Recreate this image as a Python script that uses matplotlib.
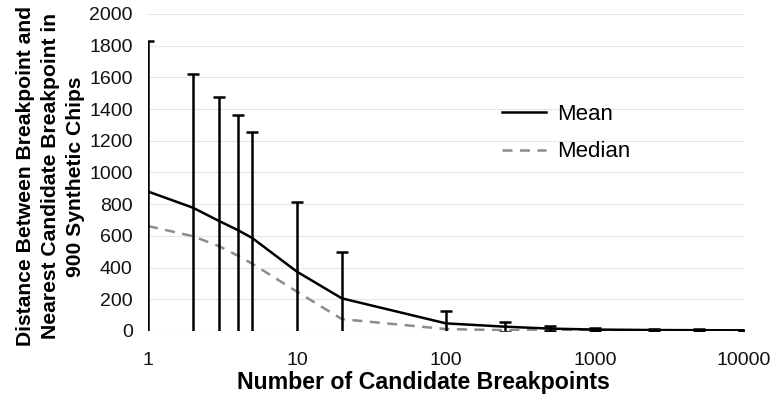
import matplotlib
matplotlib.use("Agg")
import matplotlib.pyplot as plt
from matplotlib.lines import Line2D
from matplotlib.ticker import FixedLocator, NullLocator

plt.rcParams['font.family'] = ['Liberation Sans', 'DejaVu Sans']

# number of candidate breakpoints
n_cand = [1, 2, 3, 4, 5, 10, 20, 100, 250, 500, 1000, 2500, 5000, 10000]
# mean distance and its standard deviation
mean_dist = [880, 778, 694, 637, 587, 374, 206, 48, 27, 15, 9, 6, 5, 4]
sd_dist = [950, 845, 780, 726, 670, 438, 291, 80, 32, 15, 10, 6, 5, 3]
# median distance
median_dist = [662, 598, 535, 475, 425, 248, 75, 12, 5, 3, 2, 2, 2, 2]

y_ticks = [0, 200, 400, 600, 800, 1000, 1200, 1400, 1600, 1800, 2000]
x_ticks = [1, 10, 100, 1000, 10000]

fig = plt.figure(figsize=(7.72, 4.01), dpi=100)
ax = fig.add_axes([0.1917, 0.1746, 0.772, 0.7905])

ax.errorbar(n_cand, mean_dist, yerr=sd_dist, color="black", lw=1.8,
            elinewidth=1.8, capsize=4, capthick=1.8, zorder=3)
ax.plot(n_cand, median_dist, color="#8c8c8c", lw=1.8, ls=(0, (4, 3)), zorder=2)

ax.set_xscale("log")
ax.set_xlim(1, 10000)
ax.set_ylim(0, 2000)
ax.xaxis.set_major_locator(FixedLocator(x_ticks))
ax.xaxis.set_minor_locator(NullLocator())
ax.set_xticklabels([str(t) for t in x_ticks])
ax.set_yticks(y_ticks)
ax.tick_params(length=0, labelsize=14, labelcolor="#111111")
ax.tick_params(axis="x", pad=15)
ax.tick_params(axis="y", pad=11)
ax.grid(axis="y", color="#e6e6e6", lw=0.8)
ax.set_axisbelow(True)
for s in ax.spines.values():
    s.set_visible(False)

ax.set_xlabel("Number of Candidate Breakpoints", fontsize=16.7, fontweight="bold")
ax.xaxis.set_label_coords(0.462, -0.126)
ax.set_ylabel("Distance Between Breakpoint and\nNearest Candidate Breakpoint in\n900 Synthetic Chips",
              fontsize=15.2, fontweight="bold", linespacing=1.38)
ax.yaxis.set_label_coords(-0.106, 0.488)

handles = [Line2D([], [], color="black", lw=1.8),
           Line2D([], [], color="#8c8c8c", lw=1.8, ls=(0, (4, 3)))]
ax.legend(handles, ["Mean", "Median"], loc="upper left",
          bbox_to_anchor=(0.56, 0.78), frameon=False, fontsize=16,
          handlelength=2.0, handletextpad=0.5, labelspacing=0.75)

fig.savefig("out.png", dpi=100)
